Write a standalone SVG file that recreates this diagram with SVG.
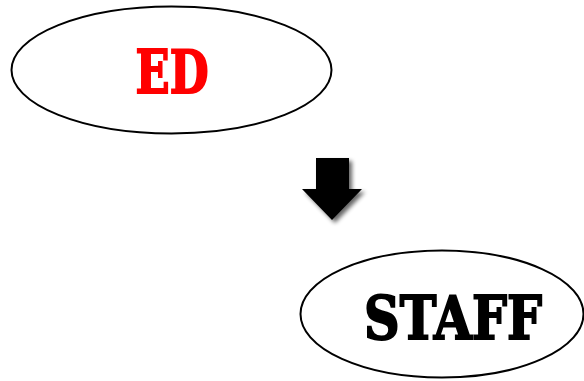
<svg xmlns="http://www.w3.org/2000/svg" width="584" height="381" viewBox="0 0 584 381">
<style>
.node ellipse{fill:#fff;stroke:#000;stroke-width:2}
.lbl{font-family:"DejaVu Serif","Liberation Serif",serif;font-weight:bold;font-size:60px;text-anchor:middle;stroke-width:2;stroke-linejoin:miter}
</style>
<defs>
<filter id="sh" x="-30%" y="-30%" width="160%" height="160%">
<feGaussianBlur in="SourceAlpha" stdDeviation="2"/>
<feOffset dx="3" dy="3" result="b"/>
<feComponentTransfer in="b" result="c"><feFuncA type="linear" slope="0.6"/></feComponentTransfer>
<feMerge><feMergeNode in="c"/><feMergeNode in="SourceGraphic"/></feMerge>
</filter>
</defs>
<rect width="584" height="381" fill="#fff"/>
<g id="ed" class="node">
<ellipse cx="171.5" cy="70" rx="160" ry="63.5"/>
<text class="lbl" x="172" y="93" fill="#f00" stroke="#f00" textLength="73" lengthAdjust="spacingAndGlyphs">ED</text>
</g>
<g id="staff" class="node">
<ellipse cx="442" cy="314" rx="141.5" ry="63.5"/>
<text class="lbl" x="453" y="339" fill="#000" stroke="#000" textLength="178" lengthAdjust="spacingAndGlyphs">STAFF</text>
</g>
<g id="connectors">
<path d="M316 158 H349 V189 H362 L332 220 L302 189 H316 Z" fill="#000" filter="url(#sh)"/>
</g>
</svg>
